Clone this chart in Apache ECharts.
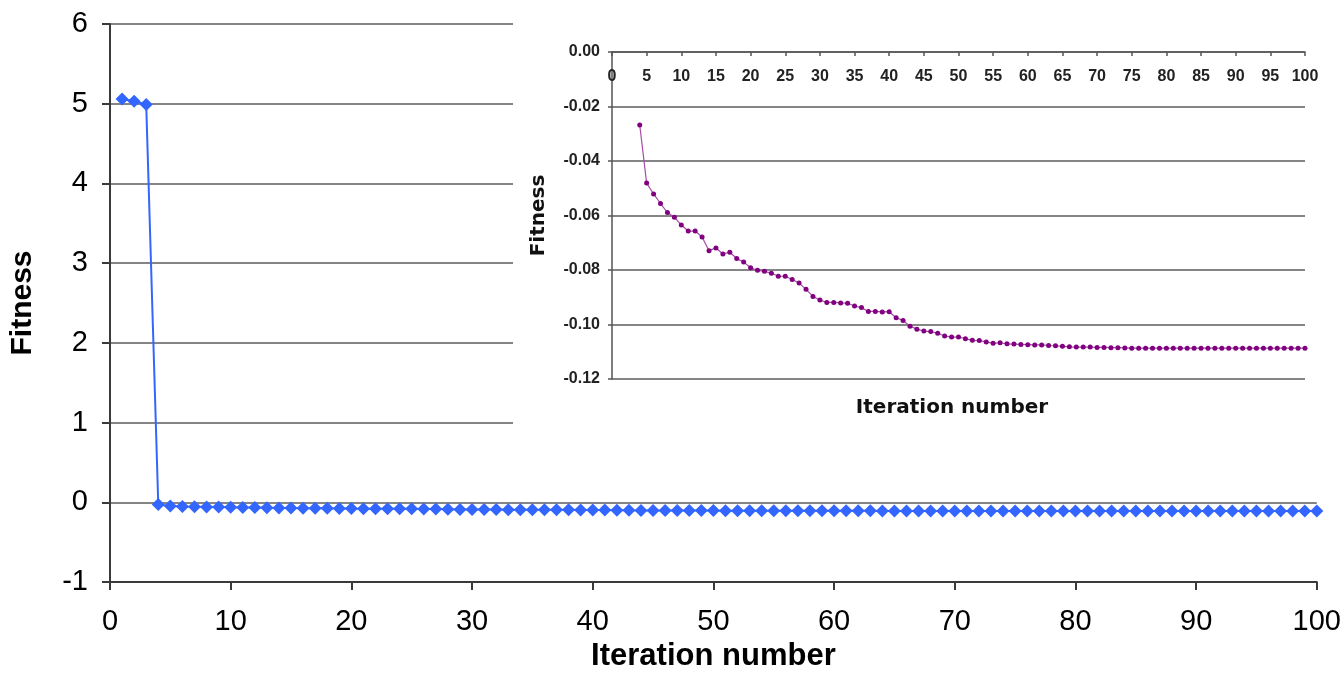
<!DOCTYPE html>
<html>
<head>
<meta charset="utf-8">
<script src="https://cdn.jsdelivr.net/npm/echarts@6/dist/echarts.min.js"></script>
<style>
  html, body { margin: 0; padding: 0; background: #fff; }
  #chart { width: 1344px; height: 691px; }
</style>
</head>
<body>
<div id="chart"></div>
<script>
// first three iterations (before the drop)
const startIterations = [1, 2, 3]
const startFitness = [5.06, 5.03, 4.99]

// iterations 4..100
const insetIterationStart = 4
const insetFitness = [
  -0.0268, -0.0481, -0.0521, -0.0556, -0.0589, -0.0606, -0.0635, -0.0657, -0.0657, -0.0679,
  -0.0729, -0.0719, -0.0741, -0.0735, -0.0758, -0.0771, -0.0792, -0.0801, -0.0805, -0.0812,
  -0.0823, -0.0823, -0.0835, -0.0848, -0.0871, -0.0897, -0.0910, -0.0919, -0.0919, -0.0921,
  -0.0922, -0.0932, -0.0938, -0.0952, -0.0952, -0.0954, -0.0953, -0.0975, -0.0985, -0.1006,
  -0.1017, -0.1024, -0.1026, -0.1032, -0.1042, -0.1046, -0.1046, -0.1052, -0.1058, -0.1059,
  -0.1064, -0.1069, -0.1067, -0.1071, -0.1072, -0.1073, -0.1074, -0.1075, -0.1075, -0.1077,
  -0.1078, -0.1080, -0.1082, -0.1083, -0.1083, -0.1083, -0.1084, -0.1084, -0.1085, -0.1085,
  -0.1086, -0.1087, -0.1087, -0.1087, -0.1087, -0.1087, -0.1087, -0.1087, -0.1087, -0.1087,
  -0.1087, -0.1087, -0.1087, -0.1087, -0.1087, -0.1087, -0.1087, -0.1087, -0.1087, -0.1087,
  -0.1087, -0.1087, -0.1087, -0.1087, -0.1087, -0.1087, -0.1087
]

const mainTicks = { min: 0, max: 100, interval: 10 }
const mainFitnessTicks = { min: -1, max: 6, interval: 1 }
const insetTicks = { min: 0, max: 100, interval: 5 }
const insetFitnessTicks = { min: -0.12, max: 0, interval: 0.02 }

const insetPoints = insetFitness.map((v, i) => [insetIterationStart + i, v])
const mainPoints = startIterations.map((it, i) => [it, startFitness[i]]).concat(insetPoints)

const axisColor = "#3a3a3a"
const gridColor = "#858585"
const mainFont = "Liberation Sans"

const chart = echarts.init(document.getElementById("chart"))
chart.setOption({
  animation: false,
  backgroundColor: "#fff",
  textStyle: { fontFamily: mainFont },
  grid: [
    { left: 108, top: 24, width: 1211, height: 558 },
    { left: 612, top: 52, width: 693, height: 327, zlevel: 1 }
  ],
  graphic: [
    {
      type: "rect", zlevel: 1, z: 0, silent: true,
      shape: { x: 513, y: 6, width: 831, height: 428 },
      style: { fill: "#fff" }
    },
    {
      type: "text", zlevel: 1, z: 10, x: 952, y: 408,
      style: {
        text: "Iteration number", align: "center", verticalAlign: "middle",
        fontSize: 20, fontWeight: "bold", fontFamily: "DejaVu Sans", fill: "#111"
      }
    }
  ],
  xAxis: [
    {
      gridIndex: 0, type: "value", ...mainTicks,
      axisLine: { onZero: false, lineStyle: { color: axisColor, width: 2 } },
      axisTick: { length: 8, lineStyle: { color: axisColor, width: 2 } },
      axisLabel: { fontSize: 29, color: "#000", margin: 25 },
      splitLine: { show: false },
      name: "Iteration number", nameLocation: "middle", nameGap: 51,
      nameTextStyle: { fontSize: 31, fontWeight: "bold", color: "#000" }
    },
    {
      gridIndex: 1, type: "value", position: "top", ...insetTicks, zlevel: 1, z: 5,
      axisLine: { onZero: false, lineStyle: { color: "#555", width: 1.5 } },
      axisTick: { inside: true, length: 4, lineStyle: { color: "#555", width: 1.5 } },
      axisLabel: { inside: true, margin: 17, fontSize: 16, fontWeight: "bold", color: "#222" },
      splitLine: { show: false }
    }
  ],
  yAxis: [
    {
      gridIndex: 0, type: "value", ...mainFitnessTicks,
      axisLine: { show: true, onZero: false, lineStyle: { color: axisColor, width: 2 } },
      axisTick: { show: true, length: 8, lineStyle: { color: axisColor, width: 2 } },
      axisLabel: { fontSize: 29, color: "#000", margin: 22 },
      splitLine: { lineStyle: { color: gridColor, width: 2 } },
      name: "Fitness", nameLocation: "middle", nameGap: 72,
      nameTextStyle: { fontSize: 30, fontWeight: "bold", color: "#000" }
    },
    {
      gridIndex: 1, type: "value", ...insetFitnessTicks, zlevel: 1, z: 5,
      axisLine: { show: true, onZero: false, lineStyle: { color: "#555", width: 1.5 } },
      axisTick: { show: true, length: 4, lineStyle: { color: "#555", width: 1.5 } },
      axisLabel: {
        fontSize: 16, fontWeight: "bold", color: "#222", margin: 12,
        formatter: (v) => (Math.abs(v) < 1e-9 ? 0 : v).toFixed(2)
      },
      splitLine: { lineStyle: { color: gridColor, width: 2 } },
      name: "Fitness", nameLocation: "middle", nameGap: 63,
      nameTextStyle: { fontSize: 20, fontWeight: "bold", fontFamily: "DejaVu Sans", color: "#111" }
    }
  ],
  series: [
    {
      type: "line", xAxisIndex: 0, yAxisIndex: 0, data: mainPoints,
      symbol: "diamond", symbolSize: 13,
      lineStyle: { color: "#3366ff", width: 2 },
      itemStyle: { color: "#3366ff" }
    },
    {
      type: "line", xAxisIndex: 1, yAxisIndex: 1, zlevel: 1, z: 6, data: insetPoints,
      symbol: "circle", symbolSize: 5,
      lineStyle: { color: "#a64ca6", width: 1.2 },
      itemStyle: { color: "#800080" }
    }
  ]
})
</script>
</body>
</html>
